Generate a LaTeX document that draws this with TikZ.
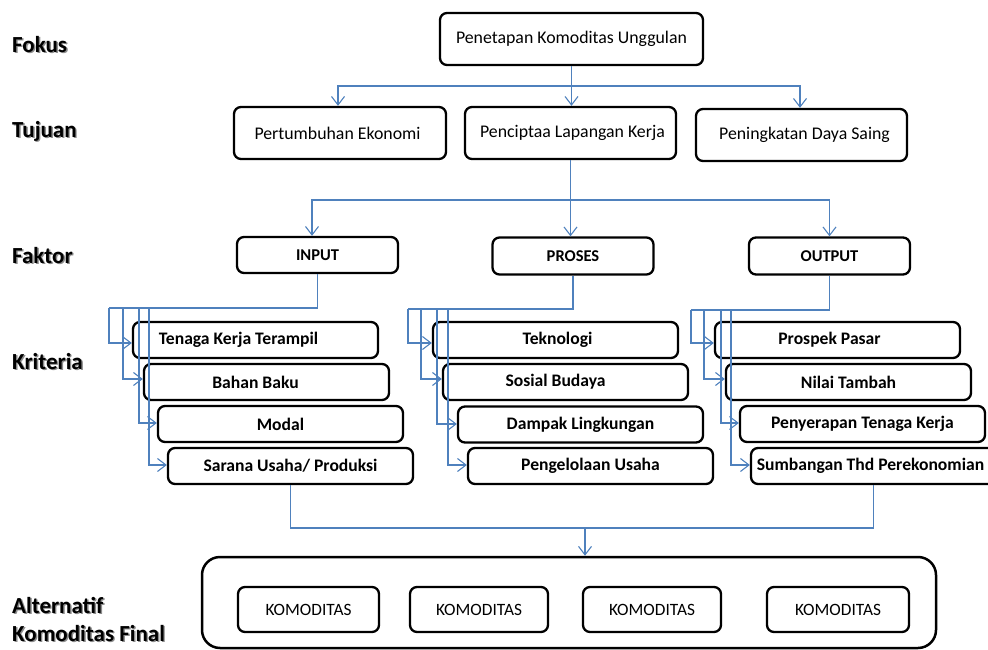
\documentclass[tikz,border=0pt]{standalone}
\usepackage{fontspec}
\setmainfont{Carlito}
\usetikzlibrary{arrows.meta}
\definecolor{lineblue}{RGB}{79,129,189}
\newcommand{\shadowtext}[1]{\rlap{\textcolor{black!45}{\kern1.4pt\raisebox{-1.4pt}{#1}}}#1}
\tikzset{
  bx/.style={draw=black, line width=2.3pt, rounded corners=7pt, inner sep=0pt, fill=white},
  topbox/.style={bx, minimum width=212pt, minimum height=52pt, font=\fontsize{17.8}{20}\selectfont},
  fakbox/.style={bx, minimum width=161pt, minimum height=36pt, font=\bfseries\fontsize{16.5}{18}\selectfont},
  kribox/.style={bx, minimum width=245pt, minimum height=36pt, font=\bfseries\fontsize{17.6}{19}\selectfont},
  kombox/.style={bx, minimum width=140pt, minimum height=45pt, font=\fontsize{17.3}{19}\selectfont},
  lvl/.style={anchor=west, inner sep=0pt, font=\bfseries\fontsize{23}{25}\selectfont},
  conn/.style={draw=lineblue, line width=1.1pt},
  arr/.style={-{Straight Barb[length=8.5pt,width=13pt,line width=1.1pt]}}
}
\begin{document}
\begin{tikzpicture}[x=1pt,y=-1pt]
\useasboundingbox (0,0) rectangle (988,650);

% level labels
\node[lvl] (lf) at (12,45) {\shadowtext{Fokus}};
\node[lvl] (lt) at (12,132) {\shadowtext{Tujuan}};
\node[lvl] (lk) at (12,256) {\shadowtext{Faktor}};
\node[lvl] (lc) at (12,362) {\shadowtext{Kriteria}};
\node[lvl] (la) at (12,606) {\shadowtext{Alternatif}};
\node[lvl] (lb) at (12,634) {\shadowtext{Komoditas Final}};

% focus and goals
\node[topbox, minimum width=263pt] (foc) at (571.5,39) {Penetapan Komoditas Unggulan};
\node[topbox] (pe) at (340,133) {\hspace*{-5pt}Pertumbuhan Ekonomi};
\node[topbox, minimum width=211pt] (pl) at (570.5,133) {\hspace*{4pt}Penciptaa Lapangan Kerja};
\node[topbox, minimum width=211pt] (pd) at (801.5,135) {\hspace*{6pt}Peningkatan Daya Saing};

% factors
\node[fakbox] (in) at (317.5,255) {INPUT};
\node[fakbox, minimum height=37pt] (pr) at (573,256) {PROSES};
\node[fakbox, minimum height=37pt] (ou) at (829.5,256) {OUTPUT};

% criteria
\node[kribox] (k1) at (255.5,340) {\hspace*{-34pt}Tenaga Kerja Terampil};
\node[kribox] (k2) at (266.5,382) {\hspace*{-22pt}Bahan Baku};
\node[kribox] (k3) at (280.5,424) {Modal};
\node[kribox] (k4) at (290.5,466) {Sarana Usaha/ Produksi};

\node[kribox] (p1) at (555.5,340) {\hspace*{4pt}Teknologi};
\node[kribox] (p2) at (565.5,382) {\hspace*{-20pt}Sosial Budaya};
\node[kribox] (p3) at (580.5,424.5) {Dampak Lingkungan};
\node[kribox] (p4) at (590.5,466) {Pengelolaan Usaha};

\node[kribox] (o1) at (837.5,340) {\hspace*{-16pt}Prospek Pasar};
\node[kribox] (o2) at (848.5,382) {Nilai Tambah};
\node[kribox] (o3) at (862.5,424) {Penyerapan Tenaga Kerja};
\node[kribox] (o4) at (873.5,466) {\hspace*{-6pt}Sumbangan Thd Perekonomian};

% alternatives
\node[bx, line width=2.5pt, rounded corners=18pt, minimum width=734pt, minimum height=91pt] (alt) at (569,602.5) {};
\node[kombox, minimum width=141pt] (c1) at (308.5,609.5) {KOMODITAS};
\node[kombox, minimum width=138pt] (c2) at (479,609.5) {KOMODITAS};
\node[kombox, minimum width=138pt] (c3) at (652,609.5) {KOMODITAS};
\node[kombox, minimum width=142pt] (c4) at (838,609.5) {KOMODITAS};

% focus -> goals
\coordinate (h1) at (571,86);
\draw[conn, arr] (foc.south) -- (foc.south |- pl.north);
\draw[conn, arr] (h1) -| ([xshift=-2pt]pe.north);
\draw[conn, arr] (h1) -| ([xshift=-1.5pt]pd.north);

% goals -> factors
\coordinate (h2) at (571,200);
\draw[conn, arr] (pl.south) -- (pl.south |- pr.north);
\draw[conn, arr] (h2) -| ([xshift=-5.5pt]in.north);
\draw[conn, arr] (h2) -| (ou.north);

% input -> criteria
\coordinate (ia1) at (109,308);
\coordinate (ia2) at (123,308);
\coordinate (ia3) at (139,308);
\coordinate (ia4) at (149,308);
\draw[conn] (in.south) |- (ia1);
\draw[conn, arr] (ia1) |- ([yshift=-3pt]k1.west);
\draw[conn, arr] (ia2) |- ([yshift=3pt]k2.west);
\draw[conn, arr] (ia3) |- ([yshift=1pt]k3.west);
\draw[conn, arr] (ia4) |- ([yshift=1pt]k4.west);

% process -> criteria
\coordinate (pa1) at (408,309);
\coordinate (pa2) at (421,309);
\coordinate (pa3) at (437,309);
\coordinate (pa4) at (448,309);
\draw[conn] (pr.south) |- (pa1);
\draw[conn, arr] (pa1) |- ([yshift=-3pt]p1.west);
\draw[conn, arr] (pa2) |- ([yshift=3pt]p2.west);
\draw[conn, arr] (pa3) |- ([yshift=0.5pt]p3.west);
\draw[conn, arr] (pa4) |- ([yshift=1pt]p4.west);

% output -> criteria
\coordinate (oa1) at (691,310);
\coordinate (oa2) at (704,310);
\coordinate (oa3) at (721,310);
\coordinate (oa4) at (731,310);
\draw[conn] (ou.south) |- (oa1);
\draw[conn, arr] (oa1) |- ([yshift=-3pt]o1.west);
\draw[conn, arr] (oa2) |- ([yshift=3pt]o2.west);
\draw[conn, arr] (oa3) |- ([yshift=1pt]o3.west);
\draw[conn, arr] (oa4) |- ([yshift=1pt]o4.west);

% criteria -> alternatives
\coordinate (bm) at (585,528);
\draw[conn] (k4.south) |- (o4.south |- bm) -- (o4.south);
\draw[conn, arr] (bm) -- (bm |- alt.north);
\end{tikzpicture}
\end{document}
